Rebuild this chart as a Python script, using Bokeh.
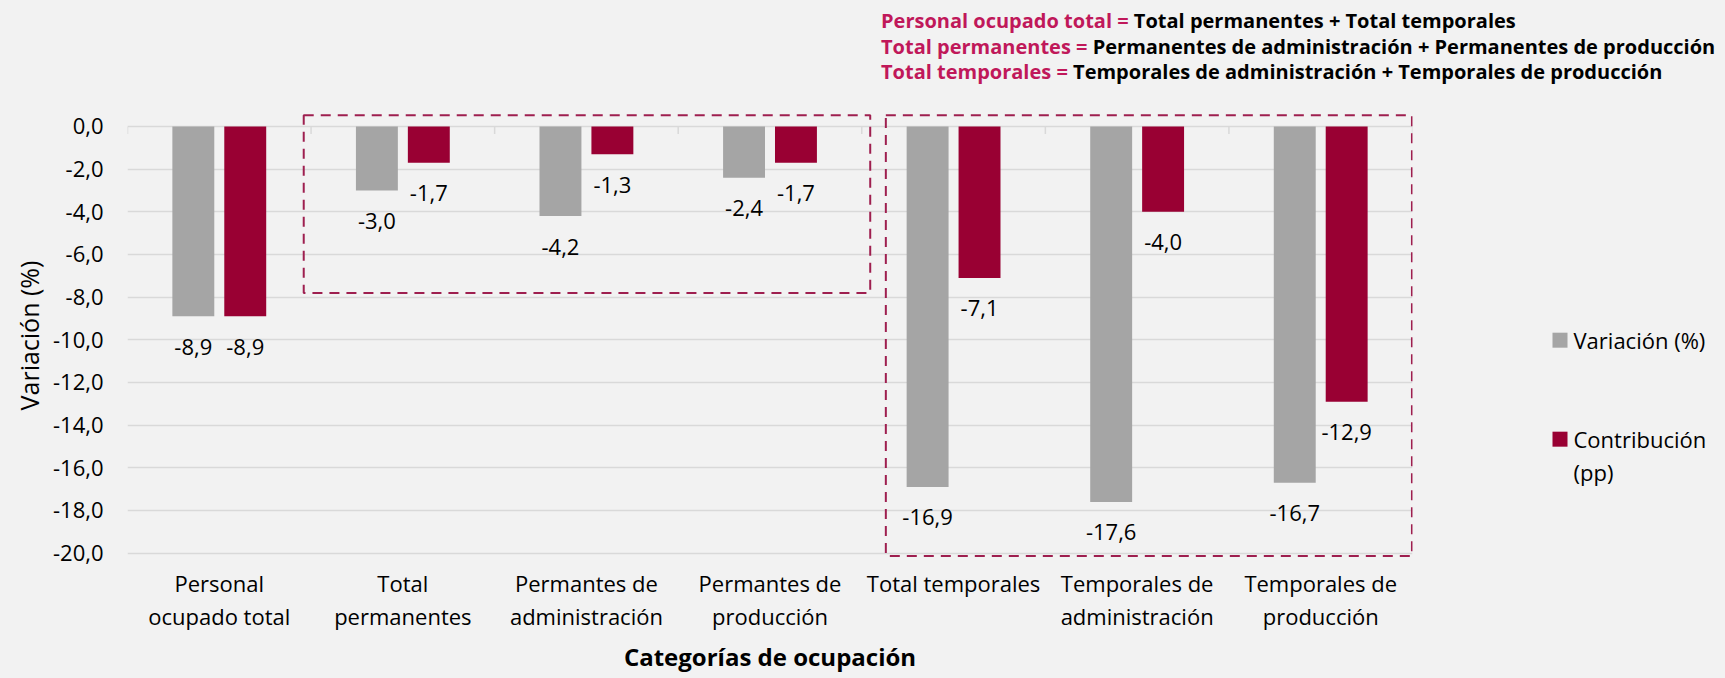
from bokeh.plotting import figure
from bokeh.models import (ColumnDataSource, FixedTicker, Div, Range1d)
from bokeh.layouts import column, row
from bokeh.transform import dodge
from bokeh.embed import file_html
from bokeh.resources import INLINE
from bokeh.core.properties import value

# ---------------- data ----------------
categories = ["Personal\nocupado total", "Total\npermanentes", "Permantes de\nadministración",
              "Permantes de\nproducción", "Total temporales", "Temporales de\nadministración",
              "Temporales de\nproducción"]
variacion = [-8.9, -3.0, -4.2, -2.4, -16.9, -17.6, -16.7]
contribucion = [-8.9, -1.7, -1.3, -1.7, -7.1, -4.0, -12.9]
series_names = ["Variación (%)", "Contribución\n(pp)"]
y_ticks = [0, -2, -4, -6, -8, -10, -12, -14, -16, -18, -20]
y_tick_labels = ["0,0", "-2,0", "-4,0", "-6,0", "-8,0", "-10,0", "-12,0", "-14,0", "-16,0", "-18,0", "-20,0"]
header_pink = ["Personal ocupado total =", "Total permanentes =", "Total temporales ="]
header_black = ["Total permanentes + Total temporales",
                "Permanentes de administración + Permanentes de producción",
                "Temporales de administración + Temporales de producción"]
x_title = "Categorías de ocupación"
y_title = "Variación (%)"

# ---------------- style / layout ----------------
FONT = "Open Sans"
BG = "#f2f2f2"
GREY = "#a5a5a5"
RED = "#990033"
BOX = "#9e1f4f"
PINK = "#c0185a"
GRID = "#d9d9d9"
OFF = 0.1414
BW = 0.2284
N = len(categories)
MAIN_W, LEG_W, FIG_H = 1420, 289, 574

fmt = lambda v: f"{v:.1f}".replace(".", ",")
src = ColumnDataSource(dict(
    x=list(range(N)),
    var=variacion, con=contribucion,
    var_lbl=[fmt(v) for v in variacion],
    con_lbl=[fmt(v) for v in contribucion],
))

lines = "<br>".join(
    f'<span style="color:{PINK}">{a}</span> {b}' for a, b in zip(header_pink, header_black))
header = Div(text=f'<div style="font-family:\'{FONT}\';font-weight:bold;font-size:20px;'
                  f'line-height:25.5px;color:#000;padding-left:873px;white-space:nowrap">{lines}</div>',
             width=MAIN_W + LEG_W, height=95, margin=(0, 0, 0, 0))

p = figure(width=MAIN_W, height=FIG_H, output_backend="svg", toolbar_location=None,
           x_range=Range1d(-0.5, N - 0.5), y_range=Range1d(-20.3, 0.7),
           min_border_top=8, min_border_bottom=FIG_H - 456, min_border_left=117, min_border_right=16,
           background_fill_color=BG, border_fill_color=BG, outline_line_color=None)

p.xgrid.visible = False
p.ygrid.ticker = FixedTicker(ticks=y_ticks)
p.ygrid.grid_line_color = GRID
p.ygrid.grid_line_width = 1.5
# category boundary ticks on the zero line
bounds = [i - 0.5 for i in range(N + 1)]
p.segment(x0=bounds, y0=[0] * len(bounds), x1=bounds, y1=[-0.35] * len(bounds),
          line_color=GRID, line_width=1.5)

p.yaxis.ticker = FixedTicker(ticks=y_ticks)
p.yaxis.major_label_overrides = {t: l for t, l in zip(y_ticks, y_tick_labels)}
p.xaxis.ticker = FixedTicker(ticks=list(range(N)))
p.xaxis.major_label_overrides = {i: c for i, c in enumerate(categories)}
for ax in (p.xaxis[0], p.yaxis[0]):
    ax.axis_line_color = None
    ax.major_tick_line_color = None
    ax.minor_tick_line_color = None
    ax.major_tick_out = 0
    ax.major_tick_in = 0
    ax.major_label_text_font = FONT
    ax.major_label_text_font_size = "22px"
    ax.major_label_text_color = "#000000"
    ax.axis_label_text_font = FONT
    ax.axis_label_text_color = "#000000"
p.yaxis.major_label_standoff = 24
p.yaxis.axis_label = y_title
p.yaxis.axis_label_text_font_size = "25px"
p.yaxis.axis_label_text_font_style = "normal"
p.yaxis.axis_label_standoff = 4
p.xaxis.major_label_standoff = 8
p.xaxis.major_label_text_line_height = 1.1
p.xaxis.axis_label = x_title
p.xaxis.axis_label_text_font_size = "24px"
p.xaxis.axis_label_text_font_style = "bold"
p.xaxis.axis_label_standoff = 6

p.vbar(x=dodge("x", -OFF, range=p.x_range), top="var", bottom=0, width=BW, source=src,
       fill_color=GREY, line_color=None)
p.vbar(x=dodge("x", OFF, range=p.x_range), top="con", bottom=0, width=BW, source=src,
       fill_color=RED, line_color=None)

for col, lbl, off in (("var", "var_lbl", -OFF), ("con", "con_lbl", OFF)):
    p.text(x=dodge("x", off, range=p.x_range), y=col, text=lbl, source=src,
           text_align="center", text_baseline="middle", y_offset=30.5,
           text_font=value(FONT), text_font_size="22px", text_color="#000000")

# dashed grouping boxes
p.quad(left=[0.46, 3.631], right=[3.546, 6.497], top=[0.52, 0.52], bottom=[-7.81, -20.14],
       fill_alpha=0, line_color=BOX, line_width=2, line_dash="10 7")

# ---------------- legend panel (frame aligned with the chart's frame) ----------------
lg = figure(width=LEG_W, height=FIG_H, output_backend="svg", toolbar_location=None,
            x_range=Range1d(0, LEG_W), y_range=p.y_range,
            min_border=0, x_axis_location=None, y_axis_location=None,
            background_fill_color=BG, border_fill_color=BG, outline_line_color=None)
lg.grid.visible = False
SQ_X, TXT_X, ITEM_Y, LINE_H = 131.5, 145, [-10.02, -14.66], 33
lg.rect(x=[SQ_X] * 2, y=ITEM_Y, width=15, height=15, width_units="screen",
        height_units="screen", fill_color=[GREY, RED], line_color=None)
tx, ty, toff, tt = [], [], [], []
for name, y0 in zip(series_names, ITEM_Y):
    for j, part in enumerate(name.split("\n")):
        tx.append(TXT_X)
        ty.append(y0)
        toff.append(j * LINE_H)
        tt.append(part)
lg.text(x=tx, y=ty, text=tt, y_offset=toff, text_align="left", text_baseline="middle",
        text_font=value(FONT), text_font_size="22px", text_color="#000000")

layout = column(header, row(p, lg, spacing=0), spacing=0)
html = file_html(layout, INLINE)
html = html.replace("</head>",
                    f"<style>body{{background:{BG};margin:8px 8px 0 8px;}}</style></head>")
open("out.html", "w").write(html)
